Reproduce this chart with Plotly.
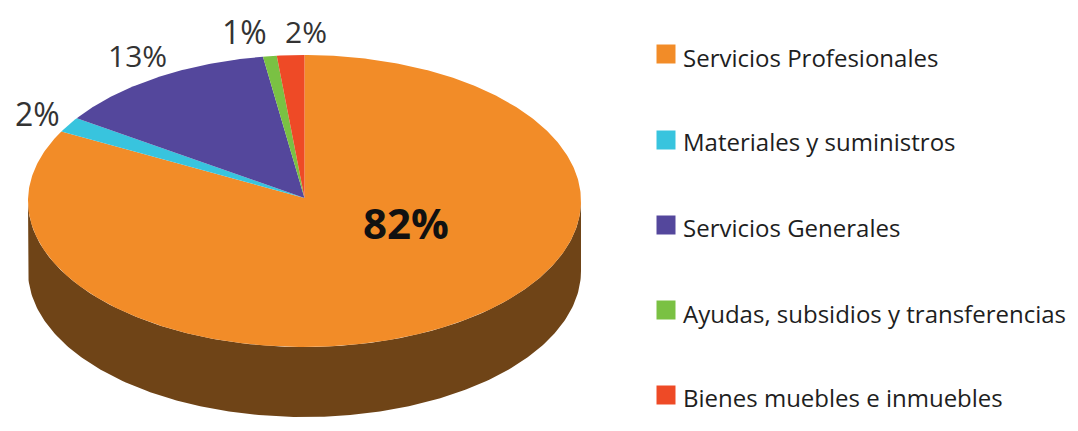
import numpy as np
import plotly.graph_objects as go

categories = ["Servicios Profesionales", "Materiales y suministros", "Servicios Generales",
              "Ayudas, subsidios y transferencias", "Bienes muebles e inmuebles"]
slice_shares = [82.9, 1.7, 13.0, 0.8, 1.6]
value_labels = ["82%", "2%", "13%", "1%", "2%"]
colors = ["#F28C28", "#38C4DE", "#54479C", "#7AC143", "#EE4A26"]
side_color = "#6F4417"

W, H = 1078, 431
CX, CY, RX, RY, DEPTH = 304.5, 201, 276.5, 146, 70
LABEL_POS = [(406, 222, 42, "bold"), (37, 113, 32, "normal"), (137, 55, 30, "normal"),
             (244, 31, 32, "normal"), (306, 31, 30, "normal")]
LEGEND_Y = [54, 140, 225, 310, 395]
LEGEND_TEXT_Y = [57, 141, 227, 313, 397]
FONT = "Open Sans"

fig = go.Figure()

# side wall: lower half of the ellipse, extruded downward
t = np.linspace(np.pi / 2, 3 * np.pi / 2, 200)
sx = CX + RX * np.sin(t)
sy = CY - RY * np.cos(t)
fig.add_trace(go.Scatter(
    x=np.concatenate([sx, sx[::-1]]),
    y=np.concatenate([sy, sy[::-1] + DEPTH]),
    fill="toself", fillcolor=side_color, mode="lines", line=dict(width=0),
    hoverinfo="skip", showlegend=False))

# top face slices
cum = 0.0
for name, share, color in zip(categories, slice_shares, colors):
    a0, a1 = cum / 100 * 2 * np.pi, (cum + share) / 100 * 2 * np.pi
    cum += share
    a = np.linspace(a0, a1, max(int(share * 6), 6))
    fig.add_trace(go.Scatter(
        x=np.concatenate([[CX], CX + RX * np.sin(a), [CX]]),
        y=np.concatenate([[CY - 3], CY - RY * np.cos(a), [CY - 3]]),
        fill="toself", fillcolor=color, mode="lines", line=dict(width=0),
        name=name, hoverinfo="name", showlegend=False))

# legend swatches
fig.add_trace(go.Scatter(
    x=[666] * len(categories), y=LEGEND_Y, mode="markers",
    marker=dict(symbol="square", size=19, color=colors, line=dict(width=0)),
    hoverinfo="skip", showlegend=False))

annotations = []
for name, y in zip(categories, LEGEND_TEXT_Y):
    annotations.append(dict(x=681, y=y, text=name, showarrow=False, xanchor="left", yanchor="middle",
                            font=dict(family=FONT, size=24, color="#1E1E1E", weight=500)))
for label, (x, y, size, weight) in zip(value_labels, LABEL_POS):
    annotations.append(dict(x=x, y=y, text=f"<b>{label}</b>" if weight == "bold" else label,
                            showarrow=False, xanchor="center", yanchor="middle",
                            font=dict(family=FONT, size=size, color="#111111" if weight == "bold" else "#333333")))

fig.update_layout(
    width=W, height=H, margin=dict(l=0, r=0, t=0, b=0),
    paper_bgcolor="white", plot_bgcolor="white", showlegend=False,
    xaxis=dict(range=[0, W], visible=False, fixedrange=True),
    yaxis=dict(range=[H, 0], visible=False, fixedrange=True),
    annotations=annotations)

fig.write_html("out.html", config=dict(displayModeBar=False),
               default_width=f"{W}px", default_height=f"{H}px",
               post_script="document.body.style.margin='0';document.documentElement.style.overflow='hidden';")
